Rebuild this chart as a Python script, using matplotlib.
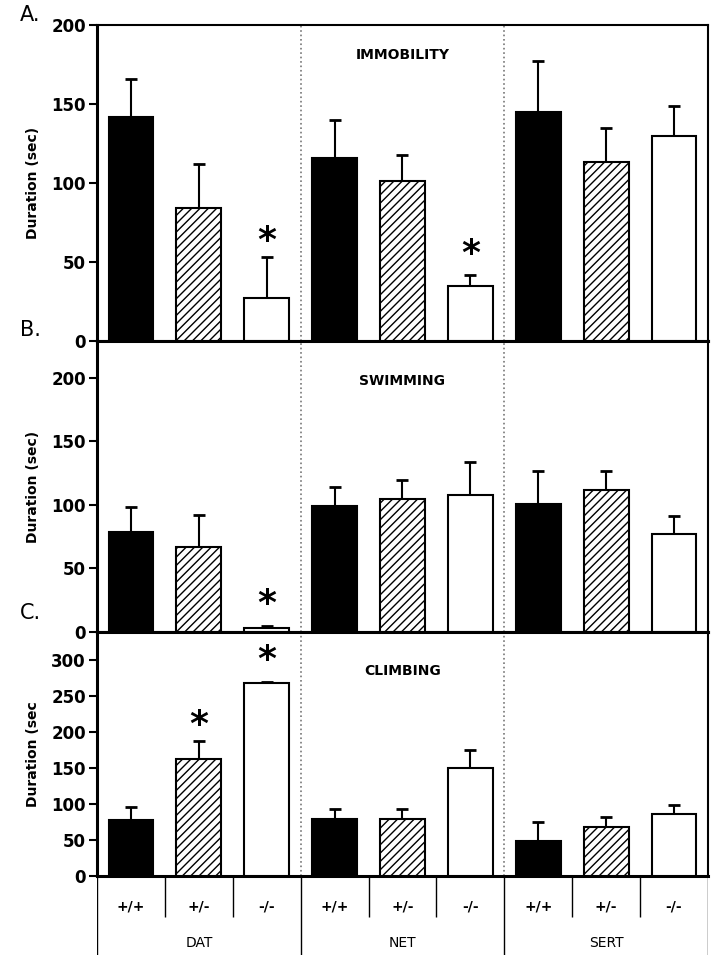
import numpy as np
import matplotlib.pyplot as plt

genotypes = ['+/+', '+/-', '-/-']
groups = ['DAT', 'NET', 'SERT']

immobility = [142, 84, 27, 116, 101, 35, 145, 113, 130]
immobility_err = [24, 28, 26, 24, 17, 7, 32, 22, 19]
swimming = [79, 67, 3, 99, 105, 108, 101, 112, 77]
swimming_err = [19, 25, 2, 15, 15, 26, 26, 15, 14]
climbing = [78, 162, 268, 79, 79, 150, 49, 68, 86]
climbing_err = [18, 26, 2, 14, 14, 25, 26, 14, 12]

stars_a = {2: 63, 5: 55}
stars_b = {2: 22}
stars_c = {1: 210, 2: 300}

panels = [
    ('A.', 'IMMOBILITY', immobility, immobility_err, stars_a, 200, [0, 50, 100, 150, 200]),
    ('B.', 'SWIMMING', swimming, swimming_err, stars_b, 229, [0, 50, 100, 150, 200]),
    ('C.', 'CLIMBING', climbing, climbing_err, stars_c, 339, [0, 50, 100, 150, 200, 250, 300]),
]
ylabels = ['Duration (sec)', 'Duration (sec)', 'Duration (sec']
title_y = [55, 381, 671]
letter_y = [15, 330, 613]

plt.rcParams['font.family'] = ['DejaVu Sans']
plt.rcParams['hatch.linewidth'] = 1.0

fig = plt.figure(figsize=(7.14, 9.6), dpi=100)
W = 714.0
H = 960.0
left = 97 / W
width = (708 - 97) / W
bounds = [(25, 341), (341, 632), (632, 876)]

x = np.arange(9)
faces = ['black', 'white', 'white'] * 3
hatches = [None, '////', None] * 3

for i, (letter, title, vals, errs, stars, ytop, ticks) in enumerate(panels):
    top, bot = bounds[i]
    ax = fig.add_axes([left, 1 - bot / H, width, (bot - top) / H])
    ax.set_ylim(0, ytop)
    ax.set_xlim(-0.5, 8.5)
    ax.bar(x, vals, width=0.66, color=faces, edgecolor='black', linewidth=1.5,
           hatch=hatches, zorder=3)
    ax.errorbar(x, vals, yerr=[np.zeros(9), errs], fmt='none', ecolor='black',
                elinewidth=1.5, capsize=4, capthick=2, zorder=2)
    for k, yv in stars.items():
        ax.text(x[k], yv, '*', ha='center', va='center', fontsize=26, fontweight='bold')
    for d in [2.5, 5.5]:
        ax.axvline(d, color='#777777', linestyle=':', linewidth=1.2, zorder=1)
    ax.set_xticks([])
    ax.set_yticks(ticks)
    ax.tick_params(axis='y', direction='out', length=6, width=1.5, labelsize=12, pad=2)
    for lab in ax.get_yticklabels():
        lab.set_fontweight('bold')
    ax.set_ylabel(ylabels[i], fontsize=10, fontweight='bold', labelpad=8)
    ax.spines['left'].set_linewidth(2.2)
    ax.spines['bottom'].set_linewidth(2.2)
    ax.spines['top'].set_linewidth(1.5 if i == 0 else 2.2)
    ax.spines['right'].set_linewidth(1.5)
    fig.text(left + width * 0.5, 1 - title_y[i] / H, title, ha='center',
             va='center', fontsize=10, fontweight='bold')
    fig.text(20 / W, 1 - letter_y[i] / H, letter, fontsize=15, ha='left', va='center')

# genotype / group table under panel C
tab = fig.add_axes([left, 1 - 955 / H, width, (955 - 876) / H])
tab.set_xlim(-0.5, 8.5)
tab.set_ylim(0, 1)
tab.axis('off')
row = (955 - 917) / 79
tab.vlines([0.5, 1.5, 3.5, 4.5, 6.5, 7.5], row, 1, color='black', linewidth=1)
tab.vlines([-0.5, 2.5, 5.5, 8.5], 0, 1, color='black', linewidth=1)
for j in range(9):
    tab.text(x[j], (955 - 906) / 79, genotypes[j % 3], ha='center', va='center',
             fontsize=10, fontweight='bold')
for g, name in enumerate(groups):
    tab.text(3 * g + 1, (955 - 943) / 79, name, ha='center', va='center', fontsize=10)

fig.savefig('out.png', dpi=100)
